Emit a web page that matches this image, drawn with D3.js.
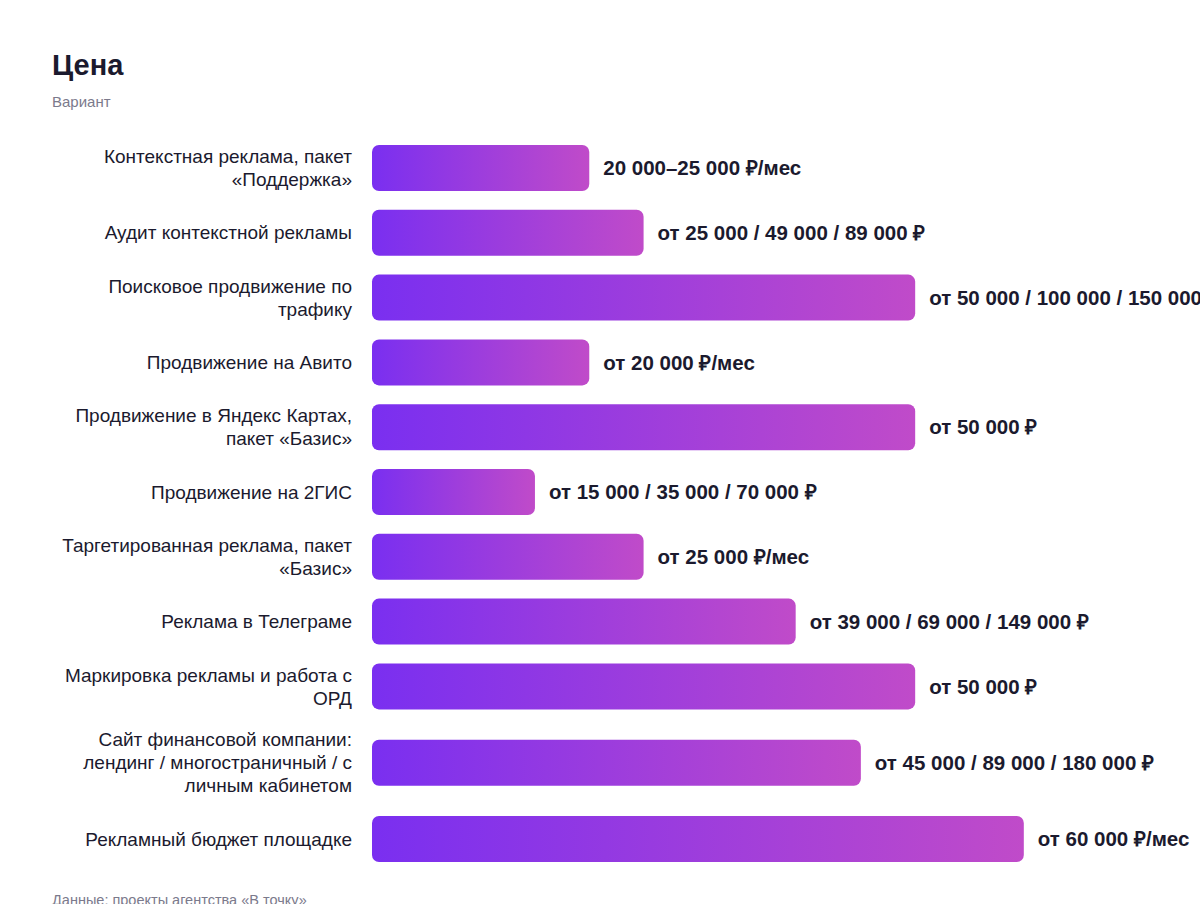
<!DOCTYPE html>
<html>
<head>
<meta charset="utf-8">
<script src="https://cdn.jsdelivr.net/npm/d3@7"></script>
<style>
  html, body { margin: 0; padding: 0; background: #fff; }
  svg { display: block; font-family: "Liberation Sans", Arial, Helvetica, sans-serif; }
</style>
</head>
<body>
<svg id="chart" width="1200" height="904"></svg>
<script>
// chart data
const categories = [
    "Контекстная реклама, пакет «Поддержка»",
    "Аудит контекстной рекламы",
    "Поисковое продвижение по трафику",
    "Продвижение на Авито",
    "Продвижение в Яндекс Картах, пакет «Базис»",
    "Продвижение на 2ГИС",
    "Таргетированная реклама, пакет «Базис»",
    "Реклама в Телеграме",
    "Маркировка рекламы и работа с ОРД",
    "Сайт финансовой компании: лендинг / многостраничный / с личным кабинетом",
    "Рекламный бюджет площадке"
];
const values = [20000, 25000, 50000, 20000, 50000, 15000, 25000, 39000, 50000, 45000, 60000];
const valueLabels = [
    "20 000–25 000 ₽/мес",
    "от 25 000 / 49 000 / 89 000 ₽",
    "от 50 000 / 100 000 / 150 000 ₽",
    "от 20 000 ₽/мес",
    "от 50 000 ₽",
    "от 15 000 / 35 000 / 70 000 ₽",
    "от 25 000 ₽/мес",
    "от 39 000 / 69 000 / 149 000 ₽",
    "от 50 000 ₽",
    "от 45 000 / 89 000 / 180 000 ₽",
    "от 60 000 ₽/мес"
];
const title = "Цена";
const subtitle = "Вариант";
const source = "Данные: проекты агентства «В точку»";

const margin = { left: 52, top: 145 };
const labelRight = 352;
const labelWidth = 300;
const labelSize = 19;
const barLeft = 372;
const barHeight = 46;
const lineHeight = 23;
const rowGap = 18.8;

const svg = d3.select("#chart");

const defs = svg.append("defs");
const grad = defs.append("linearGradient")
    .attr("id", "barGrad")
    .attr("x1", "0%").attr("x2", "100%")
    .attr("y1", "0%").attr("y2", "0%");
grad.append("stop").attr("offset", "0%").attr("stop-color", "#7a2ff0");
grad.append("stop").attr("offset", "100%").attr("stop-color", "#c04bc9");

svg.append("text")
    .attr("x", margin.left).attr("y", 75)
    .attr("font-size", 29).attr("font-weight", 700)
    .attr("fill", "#1b1a2e")
    .text(title);

svg.append("text")
    .attr("x", margin.left).attr("y", 107)
    .attr("font-size", 15)
    .attr("fill", "#7b7a8c")
    .text(subtitle);

const x = d3.scaleLinear()
    .domain([0, d3.max(values) * 1.1])
    .range([barLeft, barLeft + 717]);

// wrap a label into lines that fit the label column
const measure = svg.append("text").attr("font-size", labelSize).attr("visibility", "hidden");
function wrap(str)
{
    const words = str.split(" ");
    const lines = [];
    let line = [];
    words.forEach(w => {
        line.push(w);
        measure.text(line.join(" "));
        if (measure.node().getComputedTextLength() > labelWidth && line.length > 1)
        {
            line.pop();
            lines.push(line.join(" "));
            line = [w];
        }
    });
    lines.push(line.join(" "));
    return lines;
}

// row layout, heights depend on label lines
let cursor = margin.top;
const rows = categories.map((c, i) => {
    const lines = wrap(c);
    const h = Math.max(barHeight, lines.length * lineHeight);
    const row = { label: c, lines, value: values[i], text: valueLabels[i], top: cursor, height: h };
    cursor += h + rowGap;
    return row;
});
measure.remove();

const row = svg.append("g").selectAll("g.row")
    .data(rows)
    .join("g")
    .attr("class", "row")
    .attr("transform", d => `translate(0, ${d.top + d.height / 2})`);

row.append("text")
    .attr("text-anchor", "end")
    .attr("font-size", labelSize)
    .attr("fill", "#1b1a2e")
    .selectAll("tspan")
    .data(d => d.lines.map((l, j) => ({ l, j, n: d.lines.length })))
    .join("tspan")
    .attr("x", labelRight)
    .attr("y", d => (d.j - (d.n - 1) / 2) * lineHeight)
    .attr("dy", "0.35em")
    .text(d => d.l);

row.append("rect")
    .attr("x", x(0))
    .attr("y", -barHeight / 2)
    .attr("width", d => x(d.value) - x(0))
    .attr("height", barHeight)
    .attr("rx", 7)
    .attr("fill", "url(#barGrad)");

row.append("text")
    .attr("x", d => x(d.value) + 14)
    .attr("y", 0)
    .attr("dy", "0.35em")
    .attr("font-size", 20.5)
    .attr("font-weight", 700)
    .attr("fill", "#1b1a2e")
    .text(d => d.text);

svg.append("text")
    .attr("x", margin.left).attr("y", cursor + 24)
    .attr("font-size", 14.5)
    .attr("fill", "#7b7a8c")
    .text(source);
</script>
</body>
</html>
